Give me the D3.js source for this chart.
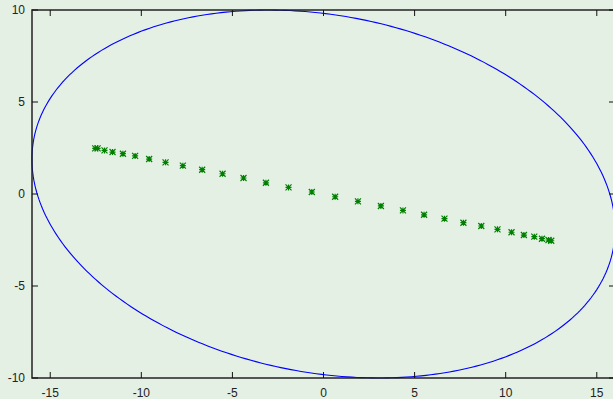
<!DOCTYPE html>
<html>
<head>
<meta charset="utf-8">
<script src="https://cdn.jsdelivr.net/npm/d3@7"></script>
<style>
  html, body { margin: 0; padding: 0; background: #e5f0e4; }
  svg { display: block; }
</style>
</head>
<body>
<div id="chart"></div>
<script>
// Chart size
var width = 613, height = 399;

// Ticks
var xTicks = [-15, -10, -5, 0, 5, 10, 15];
var yTicks = [-10, -5, 0, 5, 10];

// Sample points (green stars)
var ptX = [-12.53, -12.40, -12.02, -11.58, -11.01, -10.34, -9.57, -8.67, -7.72, -6.66,
           -5.54, -4.39, -3.16, -1.92, -0.64, 0.64, 1.89, 3.15, 4.36, 5.52,
           6.64, 7.68, 8.66, 9.55, 10.32, 11.00, 11.57, 11.99, 12.35, 12.50];
var ptY = [2.48, 2.48, 2.37, 2.28, 2.19, 2.07, 1.90, 1.72, 1.54, 1.32,
           1.10, 0.87, 0.61, 0.36, 0.11, -0.15, -0.40, -0.65, -0.89, -1.13,
           -1.34, -1.56, -1.74, -1.92, -2.08, -2.23, -2.32, -2.43, -2.50, -2.54];

// Ellipse (centre, semi-axes, rotation in degrees)
var ellipseCenter = [0, 0];
var ellipseRadii = [16.18, 9.71];
var ellipseAngle = -10.6;

var x = d3.scaleLinear().domain([-16, 16]).range([32, 615]);
var y = d3.scaleLinear().domain([-10, 10]).range([378, 10]);

var svg = d3.select("#chart").append("svg")
    .attr("width", width)
    .attr("height", height);

svg.append("rect")
    .attr("width", width).attr("height", height)
    .attr("fill", "#e5f0e4");

// Ellipse, traced through the scales
var a = ellipseAngle * Math.PI / 180;
var ellPts = d3.range(0, 361, 1).map(function (deg) {
    var t = deg * Math.PI / 180;
    var u = ellipseRadii[0] * Math.cos(t), v = ellipseRadii[1] * Math.sin(t);
    return [ellipseCenter[0] + u * Math.cos(a) - v * Math.sin(a),
            ellipseCenter[1] + u * Math.sin(a) + v * Math.cos(a)];
});
svg.append("path")
    .datum(ellPts)
    .attr("d", d3.line().x(function (d) { return x(d[0]); }).y(function (d) { return y(d[1]); }))
    .attr("fill", "none")
    .attr("stroke", "#0000ff")
    .attr("stroke-width", 1.1);

// Star points
var s = 3;
var star = "M" + (-s) + ",0H" + s + "M0," + (-s) + "V" + s +
    "M" + (-s) + "," + (-s) + "L" + s + "," + s + "M" + (-s) + "," + s + "L" + s + "," + (-s);
svg.append("g").selectAll("path")
    .data(ptX)
    .enter().append("path")
    .attr("transform", function (d, i) { return "translate(" + x(d) + "," + y(ptY[i]) + ")"; })
    .attr("d", star)
    .attr("fill", "none")
    .attr("stroke", "#008000")
    .attr("stroke-width", 1.2);

// Frame
var x0 = x.range()[0], x1 = x.range()[1], y0 = y.range()[0], y1 = y.range()[1];
svg.append("rect")
    .attr("x", x0).attr("y", y1)
    .attr("width", x1 - x0).attr("height", y0 - y1)
    .attr("fill", "none")
    .attr("stroke", "#222")
    .attr("stroke-width", 1.5);

// Ticks (inward, mirrored)
var tl = 6;
var tg = svg.append("g").attr("stroke", "#111").attr("stroke-width", 1);
xTicks.forEach(function (t) {
    tg.append("line").attr("x1", x(t)).attr("x2", x(t)).attr("y1", y0).attr("y2", y0 - tl);
    tg.append("line").attr("x1", x(t)).attr("x2", x(t)).attr("y1", y1).attr("y2", y1 + tl);
});
yTicks.forEach(function (t) {
    tg.append("line").attr("x1", x0).attr("x2", x0 + tl).attr("y1", y(t)).attr("y2", y(t));
    tg.append("line").attr("x1", x1).attr("x2", x1 - tl).attr("y1", y(t)).attr("y2", y(t));
});

// Tick labels
svg.append("g").selectAll("text")
    .data(xTicks).enter().append("text")
    .attr("x", function (d) { return x(d); })
    .attr("y", 397)
    .attr("text-anchor", "middle")
    .attr("font-family", "Liberation Sans, Arial, sans-serif")
    .attr("font-size", 12)
    .attr("fill", "#222")
    .text(function (d) { return d; });

svg.append("g").selectAll("text")
    .data(yTicks).enter().append("text")
    .attr("x", 25)
    .attr("y", function (d) { return y(d) + 4; })
    .attr("text-anchor", "end")
    .attr("font-family", "Liberation Sans, Arial, sans-serif")
    .attr("font-size", 12)
    .attr("fill", "#222")
    .text(function (d) { return d; });
</script>
</body>
</html>
